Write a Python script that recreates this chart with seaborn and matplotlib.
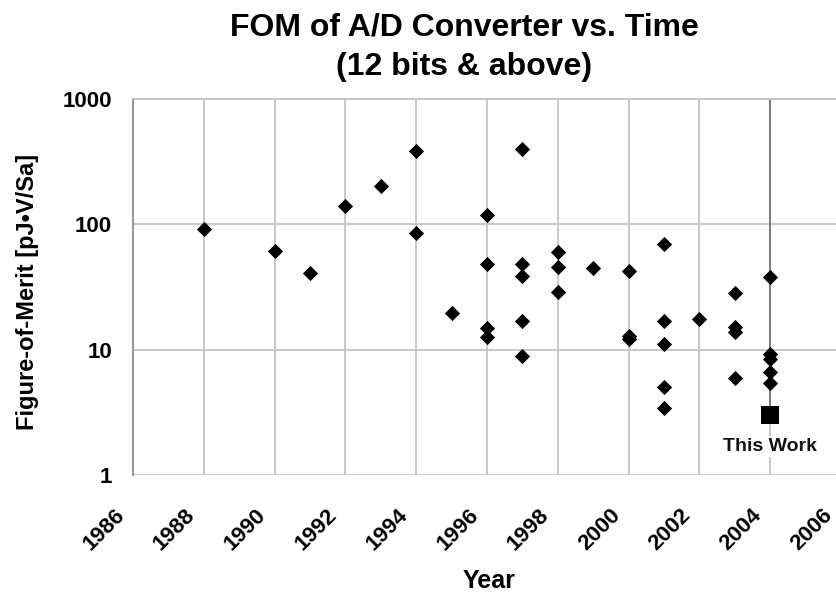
import matplotlib
matplotlib.use("Agg")
import matplotlib.pyplot as plt
import matplotlib.transforms as mtransforms
import seaborn as sns
import pandas as pd

# ---- data ----
years = [1988, 1990, 1991, 1992, 1993, 1994, 1994, 1995,
         1996, 1996, 1996, 1996,
         1997, 1997, 1997, 1997, 1997,
         1998, 1998, 1998,
         1999,
         2000, 2000, 2000,
         2001, 2001, 2001, 2001, 2001,
         2002,
         2003, 2003, 2003, 2003,
         2004, 2004, 2004, 2004, 2004]
fom = [91, 61, 41, 140, 202, 385, 86, 19.7,
       119, 48, 14.8, 12.6,
       397, 48.4, 38.7, 16.9, 8.9,
       60.5, 45.9, 28.8,
       44.6,
       42.5, 12.9, 12.2,
       70.2, 16.9, 11.0, 5.07, 3.4,
       17.5,
       28.2, 15.3, 13.9, 5.9,
       37.8, 9.25, 8.5, 6.67, 5.4]
this_work_year = [2004]
this_work_fom = [3.0]
this_work_label = "This Work"

x_ticks = [1986, 1988, 1990, 1992, 1994, 1996, 1998, 2000, 2002, 2004, 2006]
y_ticks = [1, 10, 100, 1000]
y_tick_labels = ["1", "10", "100", "1000"]

title_lines = ["FOM of A/D Converter vs. Time", "(12 bits & above)"]
x_label = "Year"
y_label = "Figure-of-Merit [pJ\u2022V/Sa]"

df = pd.DataFrame({"Year": years, "FOM": fom})
df_tw = pd.DataFrame({"Year": this_work_year, "FOM": this_work_fom})

# ---- style ----
sns.set_theme(style="white")
plt.rcParams["font.family"] = ["Liberation Sans", "DejaVu Sans"]
plt.rcParams["font.weight"] = "bold"
plt.rcParams["text.color"] = "black"
plt.rcParams["xtick.color"] = "black"
plt.rcParams["ytick.color"] = "black"

W, H = 836, 597
fig = plt.figure(figsize=(W / 100, H / 100), dpi=100)
ax = fig.add_axes([133 / W, 1 - 475 / H, (841 - 133) / W, (475 - 99) / H])

ax.set_yscale("log")
ax.set_xlim(1986, 2006)
ax.set_ylim(1, 1000)

grid_c = "#c4c4c4"
for xv in x_ticks:
    ax.axvline(xv, color=grid_c, lw=1.3, zorder=0)
for yv in y_ticks:
    ax.axhline(yv, color=grid_c, lw=1.3, zorder=0)

# darker line for this work's year
ax.vlines(this_work_year, this_work_fom, 1000, color="#7a7a7a", lw=1.4, zorder=1)

sns.scatterplot(data=df, x="Year", y="FOM", marker="D", color="black",
                s=60, edgecolor="black", linewidth=0, ax=ax, zorder=3)
sns.scatterplot(data=df_tw, x="Year", y="FOM", marker="s", color="black",
                s=150, edgecolor="black", linewidth=0, ax=ax, zorder=3)

ax.text(this_work_year[0], 1.68, this_work_label, ha="center", va="center",
        fontsize=14, fontweight="bold", color="#111111",
        bbox=dict(facecolor="white", edgecolor="none", pad=1.5), zorder=4)

ax.minorticks_off()
ax.tick_params(axis="both", length=0)
ax.tick_params(axis="y", pad=15)
ax.tick_params(axis="x", pad=14)
ax.set_xticks(x_ticks)
ax.set_xticklabels([str(v) for v in x_ticks], rotation=45, ha="right",
                   rotation_mode="anchor", fontsize=16, fontweight="bold")
ax.set_yticks(y_ticks)
ax.set_yticklabels(y_tick_labels, fontsize=16, fontweight="bold")

ax.set_xlabel("")
ax.set_ylabel("")
for side in ["right", "bottom"]:
    ax.spines[side].set_visible(False)
ax.spines["left"].set_color("#999999")
ax.spines["left"].set_linewidth(1.5)
ax.spines["top"].set_color(grid_c)
ax.spines["top"].set_linewidth(1.3)

offset = mtransforms.ScaledTranslation(-19 / 100, -10 / 100, fig.dpi_scale_trans)
for tk in ax.xaxis.get_major_ticks():
    tk.label1.set_transform(tk.label1.get_transform() + offset)

fig.text(489 / W, 1 - 581 / H, x_label, ha="center", va="center",
         fontsize=18, fontweight="bold")
fig.text(28 / W, 1 - 292 / H, y_label, ha="center", va="center",
         rotation=90, fontsize=17, fontweight="bold")
fig.text(464 / W, 1 - 27 / H, title_lines[0], ha="center", va="center",
         fontsize=23, fontweight="bold")
fig.text(464 / W, 1 - 67 / H, title_lines[1], ha="center", va="center",
         fontsize=23, fontweight="bold")

fig.savefig("out.png", dpi=100)
